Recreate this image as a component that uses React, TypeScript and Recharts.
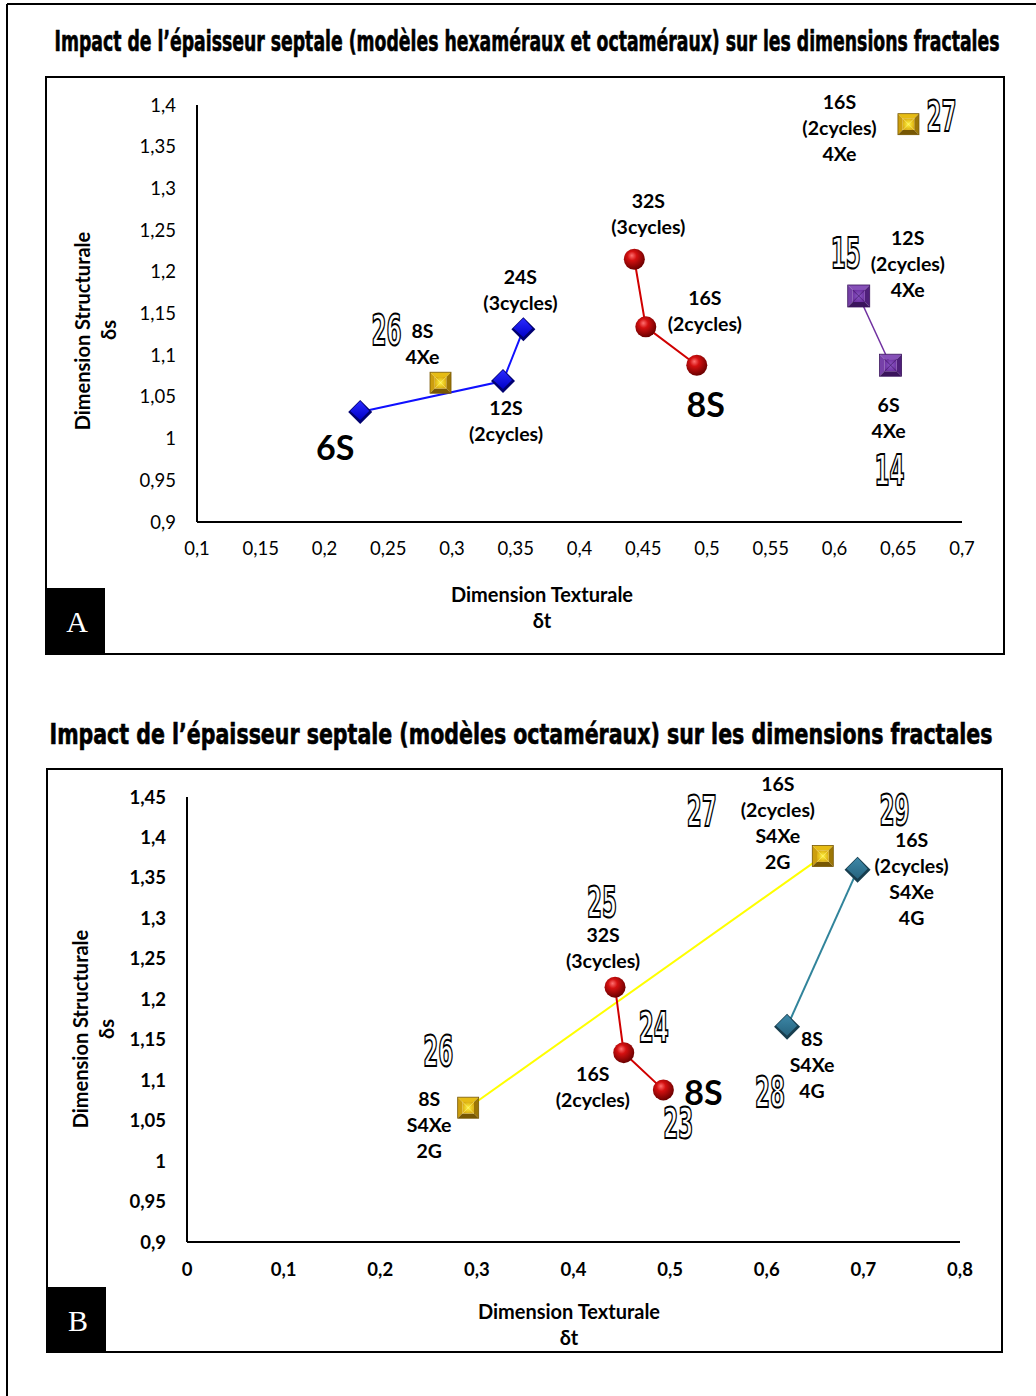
import React from 'react';
import { ScatterChart, Scatter, XAxis, YAxis } from 'recharts';

// ---- Panel A : hexameral + octameral models ----
const aXTicks = [0.1, 0.15, 0.2, 0.25, 0.3, 0.35, 0.4, 0.45, 0.5, 0.55, 0.6, 0.65, 0.7];
const aYTicks = [0.9, 0.95, 1, 1.05, 1.1, 1.15, 1.2, 1.25, 1.3, 1.35, 1.4];

const aHexa = [
  { x: 0.228, y: 1.032 },
  { x: 0.34, y: 1.069 },
  { x: 0.356, y: 1.131 },
];
const aHexaLabels = [['6S'], ['12S', '(2cycles)'], ['24S', '(3cycles)']];

const aGold = [
  { x: 0.291, y: 1.067 },
  { x: 0.658, y: 1.377 },
];
const aGoldLabels = [['8S', '4Xe'], ['16S', '(2cycles)', '4Xe']];
const aGoldIds = ['26', '27'];

const aRed = [
  { x: 0.443, y: 1.215 },
  { x: 0.452, y: 1.134 },
  { x: 0.492, y: 1.088 },
];
const aRedLabels = [['32S', '(3cycles)'], ['16S', '(2cycles)'], ['8S']];

const aPurple = [
  { x: 0.619, y: 1.171 },
  { x: 0.644, y: 1.088 },
];
const aPurpleLabels = [['12S', '(2cycles)', '4Xe'], ['6S', '4Xe']];
const aPurpleIds = ['15', '14'];

// ---- Panel B : octameral models ----
const bXTicks = [0, 0.1, 0.2, 0.3, 0.4, 0.5, 0.6, 0.7, 0.8];
const bYTicks = [0.9, 0.95, 1, 1.05, 1.1, 1.15, 1.2, 1.25, 1.3, 1.35, 1.4, 1.45];

const bGold = [
  { x: 0.291, y: 1.066 },
  { x: 0.658, y: 1.377 },
];
const bGoldLabels = [['8S', 'S4Xe', '2G'], ['16S', '(2cycles)', 'S4Xe', '2G']];
const bGoldIds = ['26', '27'];

const bRed = [
  { x: 0.443, y: 1.215 },
  { x: 0.452, y: 1.134 },
  { x: 0.493, y: 1.088 },
];
const bRedLabels = [['32S', '(3cycles)'], ['16S', '(2cycles)'], ['8S']];
const bRedIds = ['25', '24', '23'];

const bTeal = [
  { x: 0.621, y: 1.166 },
  { x: 0.694, y: 1.36 },
];
const bTealLabels = [['8S', 'S4Xe', '4G'], ['16S', '(2cycles)', 'S4Xe', '4G']];
const bTealIds = ['28', '29'];

// pixel offsets of the callouts, relative to their point
const aHexaLabelPos = [[-25, 35], [3, 26], [-3, -53]];
const aGoldLabelPos = [[-18, -52], [-69, -23]];
const aGoldIdPos = [[-54, -52], [33, -8]];
const aRedLabelPos = [[14, -59], [59, -29], [9, 38]];
const aPurpleLabelPos = [[49, -58], [-2, 39]];
const aPurpleIdPos = [[-13, -42], [-1, 105]];

const bGoldLabelPos = [[-39, -9], [-45, -73]];
const bGoldIdPos = [[-30, -56], [-121, -45]];
const bRedLabelPos = [[-12, -53], [-31, 21], [40, 2]];
const bRedIdPos = [[-13, -85], [30, -25], [15, 34]];
const bTealLabelPos = [[25, 12], [54, -30]];
const bTealIdPos = [[-17, 66], [37, -59]];

const FONT = 'Lato, "Open Sans", sans-serif';
const NARROW = '"Liberation Sans Narrow", "DejaVu Sans Condensed", "Liberation Sans", sans-serif';
const OUTLINE = '"DejaVu Sans Condensed", "Liberation Sans Narrow", sans-serif';

const fmt = (v: number) => String(+v.toFixed(2)).replace('.', ',');

type Pt = { x: number; y: number };

const buildNotes = (
  pts: Pt[],
  labels: string[][],
  pos: number[][],
  ids?: string[],
  idPos?: number[][]
) =>
  pts.map((p, i) => ({
    x: p.x,
    y: p.y,
    lines: labels[i],
    dx: pos[i][0],
    dy: pos[i][1],
    id: ids ? ids[i] : null,
    idx: idPos ? idPos[i][0] : 0,
    idy: idPos ? idPos[i][1] : 0,
  }));

const Pyramid = ({ cx, cy, h, c }: { cx: number; cy: number; h: number; c: string[] }) => {
  const k = h * 0.55;
  const TL = `${cx - h},${cy - h}`;
  const TR = `${cx + h},${cy - h}`;
  const BR = `${cx + h},${cy + h}`;
  const BL = `${cx - h},${cy + h}`;
  const tl = `${cx - k},${cy - k}`;
  const tr = `${cx + k},${cy - k}`;
  const br = `${cx + k},${cy + k}`;
  const bl = `${cx - k},${cy + k}`;
  return (
    <g>
      <polygon points={`${TL} ${TR} ${tr} ${tl}`} fill={c[0]} />
      <polygon points={`${TL} ${BL} ${bl} ${tl}`} fill={c[1]} />
      <polygon points={`${TR} ${BR} ${br} ${tr}`} fill={c[2]} />
      <polygon points={`${BL} ${BR} ${br} ${bl}`} fill={c[3]} />
      <rect x={cx - k} y={cy - k} width={2 * k} height={2 * k} fill={c[4]} />
      <line x1={cx - k} y1={cy - k} x2={cx + k} y2={cy + k} stroke={c[5]} strokeWidth={1} opacity={0.6} />
      <line x1={cx + k} y1={cy - k} x2={cx - k} y2={cy + k} stroke={c[5]} strokeWidth={1} opacity={0.6} />
      <rect x={cx - h} y={cy - h} width={2 * h} height={2 * h} fill="none" stroke={c[3]} strokeWidth={0.8} />
    </g>
  );
};

const Diamond = ({ cx, cy, r, dark, grad }: { cx: number; cy: number; r: number; dark: string; grad: string }) => (
  <g>
    <polygon points={`${cx},${cy - r} ${cx + r},${cy} ${cx},${cy + r} ${cx - r},${cy}`} fill={dark} />
    <polygon
      points={`${cx},${cy - r + 1} ${cx + r - 3},${cy - 1} ${cx},${cy + r - 4} ${cx - r + 2},${cy - 1}`}
      fill={`url(#${grad})`}
    />
  </g>
);

const goldShape = (p: any) => (
  <Pyramid cx={p.cx} cy={p.cy} h={10.5} c={['#e6bc14', '#cc9e0e', '#9c7606', '#775703', 'url(#goldIn)', '#fff58a']} />
);
const purpleShape = (p: any) => (
  <Pyramid cx={p.cx} cy={p.cy} h={11} c={['#8650b8', '#7640a8', '#4f1f7a', '#3a145c', 'url(#purpIn)', '#3a145c']} />
);
const blueShape = (p: any) => <Diamond cx={p.cx} cy={p.cy} r={12} dark="#000070" grad="blueIn" />;
const tealShape = (p: any) => <Diamond cx={p.cx} cy={p.cy} r={13} dark="#173d4e" grad="tealIn" />;
const redShape = (p: any) => (
  <g>
    <circle cx={p.cx} cy={p.cy} r={10.5} fill="url(#sphere)" />
  </g>
);

const noteShape = (p: any) => {
  const { cx, cy, payload } = p;
  const lines: string[] = payload.lines;
  const big = lines.length === 1;
  return (
    <g>
      {lines.map((t, i) => (
        <text
          key={i}
          x={cx + payload.dx}
          y={cy + payload.dy + i * 26}
          textAnchor="middle"
          dominantBaseline="central"
          fontFamily={FONT}
          fontWeight={700}
          fontSize={big ? 34 : 19.5}
          fill="#000"
        >
          {t}
        </text>
      ))}
      {payload.id && (
        <text
          x={cx + payload.idx}
          y={cy + payload.idy}
          textAnchor="middle"
          dominantBaseline="central"
          fontFamily={OUTLINE}
          fontWeight={700}
          fontSize={42}
          textLength={payload.id.length * 15}
          lengthAdjust="spacingAndGlyphs"
          fill="#fff"
          stroke="#000"
          strokeWidth={2}
        >
          {payload.id}
        </text>
      )}
    </g>
  );
};

const PanelA = () => {
  const notes = [
    ...buildNotes(aHexa, aHexaLabels, aHexaLabelPos),
    ...buildNotes(aGold, aGoldLabels, aGoldLabelPos, aGoldIds, aGoldIdPos),
    ...buildNotes(aRed, aRedLabels, aRedLabelPos),
    ...buildNotes(aPurple, aPurpleLabels, aPurpleLabelPos, aPurpleIds, aPurpleIdPos),
  ];
  return (
    <ScatterChart width={960} height={579} margin={{ top: 29, right: 43, bottom: 93, left: 0 }}>
      <XAxis
        type="number"
        dataKey="x"
        domain={[0.1, 0.7]}
        ticks={aXTicks}
        interval={0}
        tickFormatter={fmt}
        height={40}
        tickSize={0}
        tickMargin={20}
        tickLine={false}
        axisLine={{ stroke: '#000', strokeWidth: 2 }}
        tick={{ fill: '#000', fontSize: 18.5, fontFamily: FONT }}
      />
      <YAxis
        type="number"
        dataKey="y"
        domain={[0.9, 1.4]}
        ticks={aYTicks}
        interval={0}
        tickFormatter={fmt}
        width={152}
        tickSize={0}
        tickMargin={21}
        tickLine={false}
        axisLine={{ stroke: '#000', strokeWidth: 2 }}
        tick={{ fill: '#000', fontSize: 18.5, fontFamily: FONT }}
      />
      <Scatter data={aHexa} line={{ stroke: '#1010ff', strokeWidth: 2 }} lineType="joint" shape={blueShape} isAnimationActive={false} />
      <Scatter data={aGold} shape={goldShape} isAnimationActive={false} />
      <Scatter data={aRed} line={{ stroke: '#d00000', strokeWidth: 2 }} lineType="joint" shape={redShape} isAnimationActive={false} />
      <Scatter data={aPurple} line={{ stroke: '#7030a0', strokeWidth: 1.5 }} lineType="joint" shape={purpleShape} isAnimationActive={false} />
      <Scatter data={notes} shape={noteShape} isAnimationActive={false} legendType="none" />
    </ScatterChart>
  );
};

const PanelB = () => {
  const notes = [
    ...buildNotes(bGold, bGoldLabels, bGoldLabelPos, bGoldIds, bGoldIdPos),
    ...buildNotes(bRed, bRedLabels, bRedLabelPos, bRedIds, bRedIdPos),
    ...buildNotes(bTeal, bTealLabels, bTealLabelPos, bTealIds, bTealIdPos),
  ];
  return (
    <ScatterChart width={957} height={585} margin={{ top: 29, right: 43, bottom: 71, left: 0 }}>
      <XAxis
        type="number"
        dataKey="x"
        domain={[0, 0.8]}
        ticks={bXTicks}
        interval={0}
        tickFormatter={fmt}
        height={40}
        tickSize={0}
        tickMargin={21}
        tickLine={false}
        axisLine={{ stroke: '#000', strokeWidth: 2 }}
        tick={{ fill: '#000', fontSize: 18.5, fontWeight: 700, fontFamily: FONT }}
      />
      <YAxis
        type="number"
        dataKey="y"
        domain={[0.9, 1.45]}
        ticks={bYTicks}
        interval={0}
        tickFormatter={fmt}
        width={141}
        tickSize={0}
        tickMargin={21}
        tickLine={false}
        axisLine={{ stroke: '#000', strokeWidth: 2 }}
        tick={{ fill: '#000', fontSize: 18.5, fontWeight: 700, fontFamily: FONT }}
      />
      <Scatter data={bGold} line={{ stroke: '#ffff00', strokeWidth: 2 }} lineType="joint" shape={goldShape} isAnimationActive={false} />
      <Scatter data={bRed} line={{ stroke: '#d00000', strokeWidth: 2 }} lineType="joint" shape={redShape} isAnimationActive={false} />
      <Scatter data={bTeal} line={{ stroke: '#31849b', strokeWidth: 2 }} lineType="joint" shape={tealShape} isAnimationActive={false} />
      <Scatter data={notes} shape={noteShape} isAnimationActive={false} legendType="none" />
    </ScatterChart>
  );
};

const axTitle = { fontFamily: FONT, fontWeight: 700, fontSize: 20 } as const;

const Backdrop = () => (
  <svg width={1036} height={1396} style={{ position: 'absolute', left: 0, top: 0 }}>
    <defs>
      <radialGradient id="sphere" cx="42%" cy="38%" r="62%" fx="38%" fy="32%">
        <stop offset="0%" stopColor="#ff7070" />
        <stop offset="35%" stopColor="#d41010" />
        <stop offset="100%" stopColor="#6a0000" />
      </radialGradient>
      <radialGradient id="goldIn" cx="50%" cy="50%" r="60%">
        <stop offset="0%" stopColor="#fff23c" />
        <stop offset="100%" stopColor="#d6a40c" />
      </radialGradient>
      <radialGradient id="purpIn" cx="50%" cy="50%" r="60%">
        <stop offset="0%" stopColor="#8a58c4" />
        <stop offset="100%" stopColor="#6a2c9e" />
      </radialGradient>
      <linearGradient id="blueIn" x1="0" y1="0" x2="0" y2="1">
        <stop offset="0%" stopColor="#2a2aff" />
        <stop offset="100%" stopColor="#0000c8" />
      </linearGradient>
      <linearGradient id="tealIn" x1="0" y1="0" x2="0" y2="1">
        <stop offset="0%" stopColor="#3d88a8" />
        <stop offset="100%" stopColor="#26637e" />
      </linearGradient>
    </defs>
    <rect x={0} y={0} width={1036} height={1396} fill="#fff" />
    {/* outer frame */}
    <line x1={7} y1={4} x2={1036} y2={4} stroke="#000" strokeWidth={2} />
    <line x1={7} y1={4} x2={7} y2={1396} stroke="#000" strokeWidth={2} />

    {/* titles */}
    <text x={527} y={41} textAnchor="middle" dominantBaseline="central" fontFamily={NARROW} fontWeight={700}
      fontSize={28} textLength={945} lengthAdjust="spacingAndGlyphs" fill="#000" stroke="#000" strokeWidth={0.6}>
      Impact de l’épaisseur septale (modèles hexaméraux et octaméraux) sur les dimensions fractales
    </text>
    <text x={521} y={734} textAnchor="middle" dominantBaseline="central" fontFamily={NARROW} fontWeight={700}
      fontSize={28} textLength={943} lengthAdjust="spacingAndGlyphs" fill="#000" stroke="#000" strokeWidth={0.6}>
      Impact de l’épaisseur septale (modèles octaméraux) sur les dimensions fractales
    </text>

    {/* panel A frame */}
    <rect x={46} y={77} width={958} height={577} fill="none" stroke="#000" strokeWidth={2} />
    <rect x={45} y={588} width={60} height={67} fill="#000" />
    <text x={77} y={621} textAnchor="middle" dominantBaseline="central" fontFamily='"Liberation Serif", serif' fontSize={30} fill="#fff">A</text>
    <text x={542} y={594} textAnchor="middle" dominantBaseline="central" {...axTitle}>Dimension Texturale</text>
    <text x={542} y={620} textAnchor="middle" dominantBaseline="central" {...axTitle}>δt</text>
    <text transform="translate(82,331) rotate(-90)" textAnchor="middle" dominantBaseline="central" {...axTitle}>Dimension Structurale</text>
    <text transform="translate(108,330) rotate(-90)" textAnchor="middle" dominantBaseline="central" {...axTitle}>δs</text>

    {/* panel B frame */}
    <rect x={47} y={769} width={955} height={583} fill="none" stroke="#000" strokeWidth={2} />
    <rect x={46} y={1287} width={60} height={66} fill="#000" />
    <text x={78} y={1320} textAnchor="middle" dominantBaseline="central" fontFamily='"Liberation Serif", serif' fontSize={30} fill="#fff">B</text>
    <text x={569} y={1311} textAnchor="middle" dominantBaseline="central" {...axTitle}>Dimension Texturale</text>
    <text x={569} y={1337} textAnchor="middle" dominantBaseline="central" {...axTitle}>δt</text>
    <text transform="translate(80,1029) rotate(-90)" textAnchor="middle" dominantBaseline="central" {...axTitle}>Dimension Structurale</text>
    <text transform="translate(106,1029) rotate(-90)" textAnchor="middle" dominantBaseline="central" {...axTitle}>δs</text>
  </svg>
);

export default function App() {
  return (
    <div style={{ position: 'absolute', left: 0, top: 0, width: 1036, height: 1396, background: '#fff', overflow: 'hidden' }}>
      <Backdrop />
      <div style={{ position: 'absolute', left: 45, top: 76 }}>
        <PanelA />
      </div>
      <div style={{ position: 'absolute', left: 46, top: 768 }}>
        <PanelB />
      </div>
    </div>
  );
}
